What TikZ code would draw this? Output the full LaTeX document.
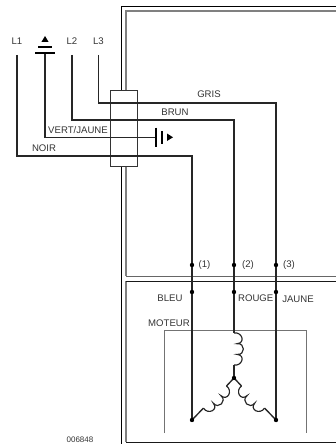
\documentclass[tikz,border=0pt]{standalone}
\usepackage{fontspec}
\setmainfont{Liberation Sans}

\tikzset{
    wire/.style={draw=black!85,line width=1.35pt},
    windingcoil/.pic={
        \draw[black!85,line width=1.15pt] (0,0) .. controls (8,-1.5) and (12,10) .. (3,10.7)
            .. controls (11.5,9.7) and (11.5,22.4) .. (3,21.4)
            .. controls (12,22) and (8,33.5) .. (0,32);
    }
}

\begin{document}
\begin{tikzpicture}[x=1pt,y=-1pt]
        \useasboundingbox (0,0) rectangle (336,444);
        % enclosure
        \draw[black,line width=0.9pt] (336,6) -- (121,6) -- (121,444);
        \draw[black!50,line width=1.3pt] (336,11) -- (126,11) -- (126,276);
        \draw[black!60,line width=1pt] (126,276) -- (336,276);
        \draw[black!50,line width=1.3pt] (126,442) -- (126,281);
        \draw[black!90,line width=1pt] (126,281) -- (336,281);
        \draw[black!90,line width=1pt] (126,442.5) -- (336,442.5);
        % motor
        \draw[black!55,line width=0.9pt] (164,433) -- (164,330) -- (306,330) -- (306,433);
        % terminal block
        \node[draw=black!80,fill=white,line width=0.7pt,minimum width=27pt,minimum height=76pt,
            inner sep=0pt] (block) at (123.8,128.2) {};
        \coordinate (T1) at (17,55);
        \coordinate (T2) at (72,55);
        \coordinate (T3) at (98.5,55);
        \coordinate (TG) at (45,53);
        \coordinate (C1) at (192,156);
        \coordinate (C2) at (234,120);
        \coordinate (C3) at (276,103);
        \coordinate (G) at (156,137.3);
        \coordinate (W2a) at (234,333);
        \coordinate (W2b) at (234,365);
        \coordinate (W1a) at (226.5,386);
        \coordinate (W1b) at (203.5,408);
        \coordinate (W3a) at (241.5,386);
        \coordinate (W3b) at (264.5,408);
        \coordinate (S1) at (192,265);
        \coordinate (S2) at (234,265);
        \coordinate (S3) at (276,265);
        \coordinate (B1) at (192,292);
        \coordinate (B2) at (234,292);
        \coordinate (B3) at (276,292);
        \coordinate (E1) at (192,420);
        \coordinate (E3) at (276,420);
        \coordinate (O) at (234,378);
        \begin{scope}[
            every path/.style={wire}
        ]
            \path (T1) |- (C1) -- (S1) -- (B1) -- (E1);
            \path (T2) |- (C2) -- (S2) -- (B2) -- (W2a);
            \path (T3) |- (C3) -- (S3) -- (B3) -- (E3);
            \path (TG) |- (G);
            \path (W2b) -- (O);
            \path (O) -- (W1a);
            \path (O) -- (W3a);
            \path (W1b) -- (E1);
            \path (W3b) -- (E3);
        \end{scope}
        \pic at (W2a) {windingcoil};
        \pic[rotate=-46] at (W1a) {windingcoil};
        \pic[rotate=46,xscale=-1] at (W3a) {windingcoil};
        \begin{scope}[
            every node/.style={shape=circle,fill=black,inner sep=0pt,minimum size=4.4pt}
        ]
            \node (dS1) at (S1) {};
            \node (dS2) at (S2) {};
            \node (dS3) at (S3) {};

            \node (dB1) at (B1) {};
            \node (dB2) at (B2) {};
            \node (dB3) at (B3) {};

            \node (dE1) at (E1) {};
            \node (dE3) at (E3) {};
            \node (dO) at (O) {};
        \end{scope}
        % earth symbols
        \draw[black,line width=1.7pt] (35,52.7) -- (55,52.7);
        \draw[black,line width=1.7pt] (38,46.8) -- (52,46.8);
        \fill[black] (45,36) -- (48.6,42) -- (41.4,42) -- cycle;
        \draw[black,line width=1.7pt] (156,127.5) -- (156,147);
        \draw[black,line width=1.7pt] (162,131) -- (162,144);
        \fill[black] (173,137.3) -- (167,133.5) -- (167,141) -- cycle;
        \begin{scope}[
            every node/.style={font=\fontsize{9.6}{11}\selectfont,text=black!80,inner sep=0pt}
        ]
            \node (L1) at (17,41) {L1};
            \node (L2) at (72,41) {L2};
            \node (L3) at (98.5,41) {L3};
            \node (gris) at (209,94) {GRIS};
            \node (brun) at (175,112) {BRUN};
            \node (vert) at (78,130) {VERT/JAUNE};
            \node (noir) at (44,148) {NOIR};
            \node (n1) at (204.5,265) {(1)};
            \node (n2) at (248,265) {(2)};
            \node (n3) at (289,265) {(3)};
            \node (bleu) at (170,298) {BLEU};
            \node (rouge) at (255.7,298) {ROUGE};
            \node (jaune) at (298,299.5) {JAUNE};
            \node (moteur) at (169,323.5) {MOTEUR};
            \node[font=\fontsize{8}{10}\selectfont] (ref) at (80,439.5) {006848};
        \end{scope}
    \end{tikzpicture}
\end{document}
